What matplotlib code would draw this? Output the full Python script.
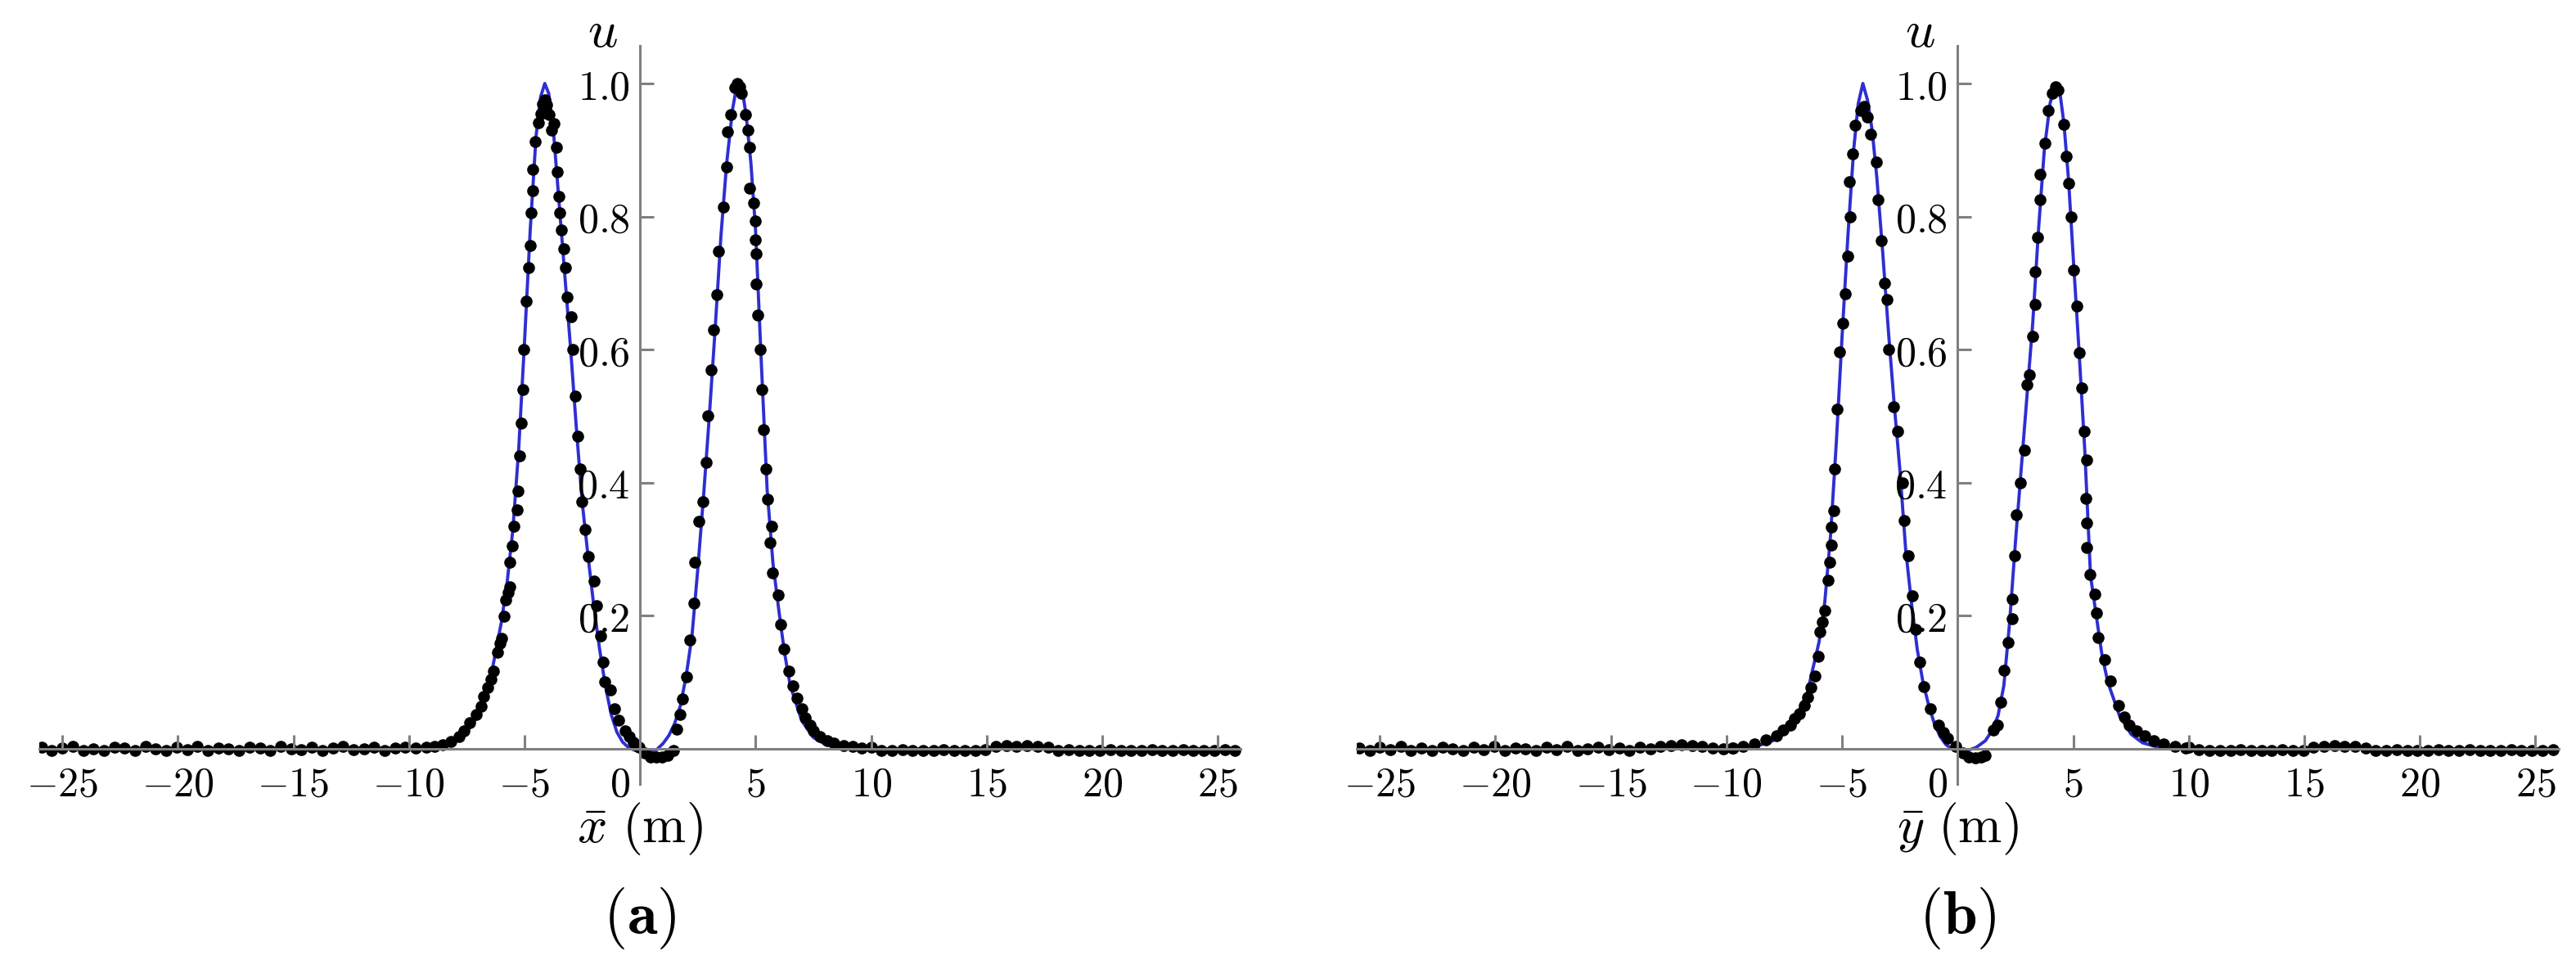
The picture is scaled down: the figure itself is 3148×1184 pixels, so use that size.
import matplotlib.pyplot as plt
from matplotlib.transforms import ScaledTranslation, blended_transform_factory

plt.rcParams['mathtext.fontset'] = 'cm'
plt.rcParams['font.family'] = ['DejaVu Serif']

# flat parts of the particle profile (same sampling in both panels)
tail_left_x = [-25.9, -25.45, -25.0, -24.55, -24.1, -23.65, -23.2, -22.75, -22.3,
               -21.85, -21.4, -20.95, -20.5, -20.05, -19.6, -19.15, -18.7, -18.25,
               -17.8, -17.35, -16.9, -16.45, -16.0, -15.55, -15.1, -14.65, -14.2,
               -13.75, -13.3, -12.85, -12.4, -11.95, -11.5, -11.05, -10.6, -10.15,
               -9.7]
tail_right_x = [10.0, 10.45, 10.9, 11.35, 11.8, 12.25, 12.7, 13.15, 13.6, 14.05,
                14.5, 14.95, 15.4, 15.85, 16.3, 16.75, 17.2, 17.65, 18.1, 18.55,
                19.0, 19.45, 19.9, 20.35, 20.8, 21.25, 21.7, 22.15, 22.6, 23.05,
                23.5, 23.95, 24.4, 24.85, 25.3, 25.75]

ua_tail_left = [0.002, -0.002, 0.001, 0.003, -0.002, 0.0, -0.003, 0.002, 0.001,
                -0.002, 0.003, 0.0, -0.002, 0.002, -0.001, 0.003, -0.002, 0.001,
                0.0, -0.003, 0.002, 0.001, -0.002, 0.003, 0.0, -0.001, 0.002,
                -0.002, 0.001, 0.003, -0.001, 0.0, 0.002, -0.002, 0.001, 0.002,
                0.001]
ua_tail_right = [0.002, -0.002, -0.003, -0.001, -0.003, -0.002, -0.003, -0.001, -0.003, -0.002,
                 -0.003, -0.001, 0.003, 0.005, 0.004, 0.005, 0.004, 0.002, -0.003, -0.001,
                 -0.003, -0.002, -0.003, -0.001, -0.003, -0.002, -0.003, -0.001, -0.002, -0.003,
                 -0.001, -0.003, -0.002, -0.003, -0.001, -0.002]
ub_tail_left = [0.001, -0.002, 0.002, -0.001, 0.003, -0.002, 0.001, -0.003, 0.002,
                0.0, -0.002, 0.002, -0.001, 0.003, -0.002, 0.001, 0.0, -0.002,
                0.002, -0.001, 0.003, -0.002, 0.0, 0.002, -0.001, 0.001, -0.002,
                0.002, 0.0, 0.003, 0.005, 0.006, 0.005, 0.003, 0.001, 0.0,
                0.001]
ub_tail_right = [0.002, -0.001, -0.003, -0.002, -0.003, -0.001, -0.003, -0.002, -0.003, -0.001,
                 -0.002, -0.003, 0.002, 0.004, 0.005, 0.004, 0.003, 0.001, -0.002, -0.003,
                 -0.001, -0.003, -0.002, -0.003, -0.001, -0.003, -0.002, -0.001, -0.003, -0.002,
                 -0.003, -0.001, -0.002, -0.003, -0.002, -0.001]

# panel (a): particle values around the two humps
xa_mid = [-9.26, -8.9, -8.55, -8.2, -7.84, -7.6, -7.37, -7.1, -6.88, -6.75,
          -6.6, -6.45, -6.35, -6.17, -6.05, -5.99, -5.89, -5.82, -5.72, -5.64,
          -5.64, -5.53, -5.46, -5.33, -5.28, -5.22, -5.15, -5.08, -5.02, -4.93,
          -4.82, -4.75, -4.72, -4.65, -4.63, -4.54, -4.40, -4.30, -4.22, -4.12,
          -4.03, -3.94, -3.82, -3.72, -3.6, -3.58, -3.51, -3.48, -3.40, -3.30,
          -3.23, -3.16, -2.98, -2.9, -2.8, -2.7, -2.6, -2.52, -2.38, -2.23,
          -1.99, -1.88, -1.70, -1.6, -1.52, -1.28, -1.1, -0.92, -0.64, -0.45,
          -0.28, -0.04, 0.2, 0.45, 0.7, 0.95, 1.2, 1.45, 1.6, 1.74,
          1.85, 2.02, 2.16, 2.34, 2.38, 2.55, 2.73, 2.85, 2.95, 3.08,
          3.2, 3.33, 3.40, 3.62, 3.76, 3.79, 3.94, 4.11, 4.2, 4.3,
          4.4, 4.57, 4.68, 4.75, 4.75, 4.9, 5.0, 5.0, 5.04, 5.04,
          5.1, 5.2, 5.28, 5.36, 5.45, 5.53, 5.64, 5.71, 5.74, 5.99,
          6.1, 6.24, 6.45, 6.6, 6.81, 7.0, 7.16, 7.35, 7.52, 7.8,
          8.1, 8.4, 8.8, 9.2, 9.6]
ua_mid = [0.002, 0.004, 0.006, 0.011, 0.018, 0.027, 0.039, 0.052, 0.064, 0.078,
          0.092, 0.105, 0.117, 0.145, 0.158, 0.166, 0.199, 0.224, 0.235, 0.244,
          0.28, 0.305, 0.334, 0.359, 0.387, 0.44, 0.49, 0.54, 0.6, 0.673,
          0.723, 0.756, 0.806, 0.839, 0.871, 0.913, 0.941, 0.955, 0.969, 0.975,
          0.968, 0.953, 0.93, 0.94, 0.904, 0.867, 0.830, 0.806, 0.78, 0.752,
          0.723, 0.679, 0.649, 0.6, 0.53, 0.47, 0.42, 0.371, 0.33, 0.289,
          0.252, 0.215, 0.170, 0.13, 0.101, 0.089, 0.06, 0.043, 0.027, 0.018,
          0.010, 0.002, -0.006, -0.012, -0.013, -0.013, -0.01, -0.003, 0.03, 0.052,
          0.075, 0.108, 0.164, 0.219, 0.28, 0.342, 0.371, 0.43, 0.5, 0.57,
          0.63, 0.683, 0.748, 0.814, 0.875, 0.928, 0.953, 0.994, 1.0, 0.995,
          0.985, 0.953, 0.93, 0.904, 0.843, 0.82, 0.793, 0.765, 0.744, 0.699,
          0.652, 0.6, 0.54, 0.48, 0.42, 0.375, 0.31, 0.334, 0.264, 0.231,
          0.187, 0.150, 0.117, 0.095, 0.076, 0.06, 0.047, 0.036, 0.027, 0.018,
          0.012, 0.008, 0.005, 0.003, 0.001]

# panel (b)
xb_mid = [-9.75, -9.3, -8.8, -8.3, -7.84, -7.55, -7.24, -7.05, -6.85, -6.65,
          -6.5, -6.35, -6.18, -6.04, -5.97, -5.85, -5.76, -5.62, -5.55, -5.48,
          -5.46, -5.35, -5.34, -5.23, -5.12, -4.98, -4.88, -4.75, -4.66, -4.7,
          -4.56, -4.42, -4.2, -4.05, -3.9, -3.75, -3.53, -3.43, -3.29, -3.18,
          -3.07, -2.97, -2.76, -2.61, -2.40, -2.3, -2.12, -1.95, -1.8, -1.63,
          -1.45, -1.17, -0.81, -0.6, -0.42, -0.07, 0.25, 0.5, 0.75, 1.0,
          1.2, 1.55, 1.73, 1.85, 2.01, 2.2, 2.37, 2.37, 2.45, 2.54,
          2.7, 2.9, 3.0, 3.11, 3.25, 3.36, 3.36, 3.46, 3.57, 3.57,
          3.78, 3.92, 4.1, 4.24, 4.35, 4.59, 4.7, 4.8, 4.91, 5.02,
          5.16, 5.27, 5.37, 5.48, 5.58, 5.55, 5.58, 5.6, 5.72, 5.94,
          6.0, 6.08, 6.36, 6.61, 6.96, 7.2, 7.42, 7.75, 8.09, 8.5,
          8.9, 9.4, 9.86]
ub_mid = [0.001, 0.003, 0.007, 0.013, 0.020, 0.028, 0.036, 0.045, 0.053, 0.065,
          0.077, 0.092, 0.109, 0.139, 0.176, 0.19, 0.208, 0.253, 0.28, 0.306,
          0.333, 0.358, 0.42, 0.51, 0.596, 0.64, 0.684, 0.74, 0.80, 0.852,
          0.894, 0.937, 0.96, 0.965, 0.95, 0.924, 0.882, 0.825, 0.764, 0.70,
          0.675, 0.6, 0.514, 0.477, 0.40, 0.343, 0.29, 0.23, 0.18, 0.13,
          0.093, 0.06, 0.036, 0.025, 0.016, 0.004, -0.006, -0.012, -0.014, -0.013,
          -0.01, 0.028, 0.036, 0.07, 0.118, 0.16, 0.196, 0.225, 0.29, 0.352,
          0.4, 0.449, 0.547, 0.562, 0.62, 0.668, 0.717, 0.769, 0.825, 0.863,
          0.91, 0.96, 0.985, 0.995, 0.99, 0.938, 0.891, 0.85, 0.80, 0.72,
          0.665, 0.595, 0.542, 0.477, 0.434, 0.376, 0.34, 0.303, 0.262, 0.232,
          0.204, 0.167, 0.134, 0.102, 0.065, 0.048, 0.036, 0.027, 0.02, 0.012,
          0.007, 0.003, 0.001]

# analytical (blue) curves
xa_line = [-26, -12, -10, -9, -8.5, -8, -7.5, -7, -6.5, -6,
           -5.75, -5.5, -5.25, -5, -4.75, -4.5, -4.3, -4.12, -3.95, -3.75,
           -3.5, -3.25, -3, -2.75, -2.5, -2.25, -2, -1.75, -1.5, -1.25,
           -1, -0.75, -0.5, -0.25, 0, 0.35, 0.7, 1.0, 1.25, 1.5,
           1.75, 2, 2.25, 2.5, 2.75, 3, 3.25, 3.5, 3.75, 4,
           4.15, 4.29, 4.45, 4.6, 4.8, 5, 5.25, 5.5, 5.75, 6,
           6.25, 6.5, 7, 7.5, 8, 8.5, 9, 10, 12, 26]
ua_line = [0, 0, 0.001, 0.003, 0.006, 0.012, 0.025, 0.05, 0.1, 0.19,
           0.25, 0.33, 0.45, 0.61, 0.78, 0.92, 0.98, 1.0, 0.985, 0.93,
           0.82, 0.71, 0.6, 0.48, 0.37, 0.29, 0.215, 0.15, 0.095, 0.052,
           0.025, 0.01, 0.002, -0.002, -0.004, -0.005, -0.002, 0.008, 0.02, 0.038,
           0.065, 0.11, 0.17, 0.27, 0.38, 0.5, 0.63, 0.77, 0.88, 0.96,
           0.99, 1.0, 0.985, 0.95, 0.88, 0.78, 0.58, 0.39, 0.28, 0.21,
           0.145, 0.095, 0.042, 0.017, 0.007, 0.003, 0.001, 0, 0, 0]
xb_line = [-26, -12, -10, -9, -8.5, -8, -7.5, -7, -6.5, -6,
           -5.75, -5.5, -5.25, -5, -4.75, -4.5, -4.3, -4.1, -3.9, -3.7,
           -3.5, -3.25, -3, -2.75, -2.5, -2.25, -2, -1.75, -1.5, -1.25,
           -1, -0.75, -0.5, -0.25, 0, 0.4, 0.8, 1.2, 1.5, 1.75,
           2, 2.25, 2.5, 2.75, 3, 3.25, 3.5, 3.75, 4, 4.15,
           4.29, 4.45, 4.6, 4.8, 5, 5.25, 5.5, 5.75, 6, 6.25,
           6.5, 7, 7.5, 8, 8.5, 9, 10, 12, 26]
ub_line = [0, 0, 0.001, 0.003, 0.006, 0.012, 0.024, 0.046, 0.085, 0.16,
           0.22, 0.32, 0.46, 0.62, 0.77, 0.9, 0.97, 1.0, 0.975, 0.93,
           0.86, 0.75, 0.63, 0.52, 0.42, 0.3, 0.22, 0.15, 0.1, 0.065,
           0.037, 0.018, 0.006, 0.0, -0.002, -0.003, 0.002, 0.012, 0.028, 0.05,
           0.095, 0.19, 0.31, 0.42, 0.53, 0.64, 0.78, 0.9, 0.97, 0.99,
           1.0, 0.98, 0.94, 0.855, 0.74, 0.6, 0.45, 0.26, 0.2, 0.14,
           0.1, 0.05, 0.022, 0.009, 0.004, 0.001, 0, 0, 0]

x_ticks = [-25, -20, -15, -10, -5, 0, 5, 10, 15, 20, 25]
u_ticks = [0.2, 0.4, 0.6, 0.8, 1.0]
x_labels = [r'$\bar{x}\ (\mathrm{m})$', r'$\bar{y}\ (\mathrm{m})$']
tags = [r'$(\mathbf{a})$', r'$(\mathbf{b})$']

axis_grey = '#808080'
line_blue = '#2e2ed2'


def draw_panel(ax, x_pts, u_pts, x_line, u_line, xlabel, tag):
    ax.plot(x_line, u_line, color=line_blue, lw=2.8, zorder=2.0)
    ax.plot(x_pts, u_pts, 'o', color='black', ms=10.5, mew=0, zorder=2.2)

    ax.set_xlim(-26, 26)
    ax.set_ylim(-0.053, 1.056)

    # axes crossing at the origin, drawn over the data
    for side in ['top', 'right']:
        ax.spines[side].set_visible(False)
    for side in ['left', 'bottom']:
        ax.spines[side].set_position(('data', 0))
        ax.spines[side].set_color(axis_grey)
        ax.spines[side].set_linewidth(2.2)
        ax.spines[side].set_zorder(3)
    ax.set_axisbelow(False)

    ax.set_xticks(x_ticks, labels=[f'${t}$' for t in x_ticks])
    ax.set_yticks(u_ticks, labels=[f'${t:.1f}$' for t in u_ticks])
    ax.tick_params(axis='both', direction='in', length=12, width=2.2,
                   color=axis_grey, labelsize=36)
    ax.tick_params(axis='x', pad=14)
    ax.tick_params(axis='y', pad=9)

    # the "0" label sits left of the vertical axis
    zero = ax.get_xticklabels()[x_ticks.index(0)]
    zero.set_horizontalalignment('right')
    zero.set_transform(zero.get_transform()
                       + ScaledTranslation(-9 / 72, 0, ax.figure.dpi_scale_trans))

    trans = blended_transform_factory(ax.transData, ax.transAxes)
    ax.text(-1.63, 1.019, r'$u$', transform=trans, fontsize=46,
            ha='center', va='center')
    ax.text(0, -0.061, xlabel, transform=trans, fontsize=46,
            ha='center', va='center')
    ax.text(0, -0.182, tag, transform=trans, fontsize=54,
            ha='center', va='center')


fig = plt.figure(figsize=(31.48, 11.84), dpi=100)

ax_a = fig.add_axes([0.0152, 0.1909, 0.4665, 0.7614])
draw_panel(ax_a, tail_left_x + xa_mid + tail_right_x,
           ua_tail_left + ua_mid + ua_tail_right,
           xa_line, ua_line, x_labels[0], tags[0])

ax_b = fig.add_axes([0.5267, 0.1909, 0.4665, 0.7614])
draw_panel(ax_b, tail_left_x + xb_mid + tail_right_x,
           ub_tail_left + ub_mid + ub_tail_right,
           xb_line, ub_line, x_labels[1], tags[1])

fig.savefig('out.png', dpi=100)
